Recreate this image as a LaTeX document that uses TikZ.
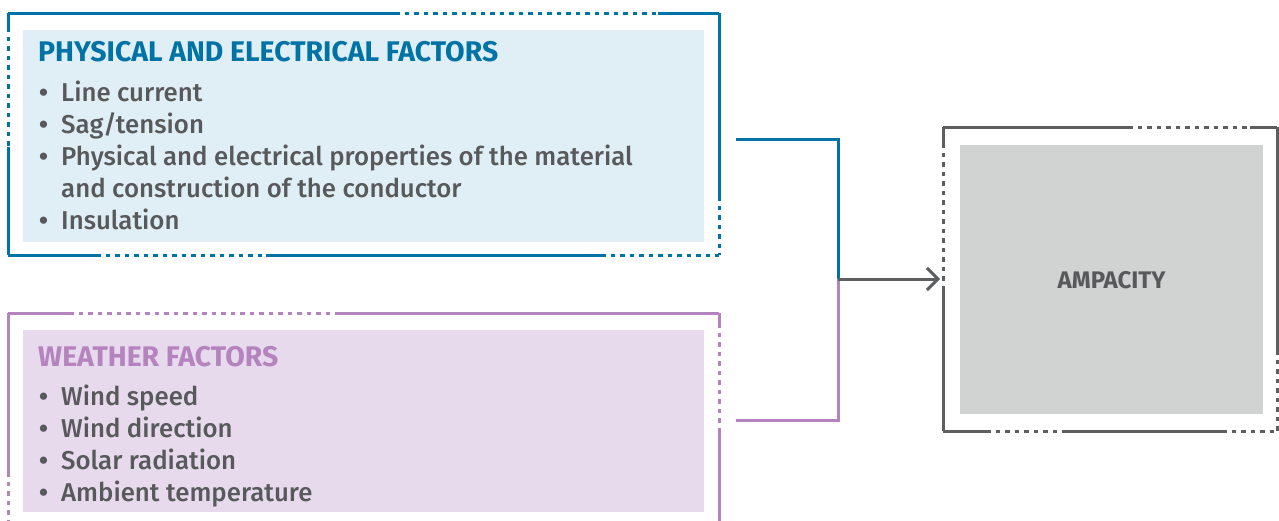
\documentclass[tikz,border=0pt]{standalone}
\usepackage{fontspec}
\setmainfont{Fira Sans}[UprightFont={* Medium},BoldFont={* Bold}]
\usetikzlibrary{arrows.meta}
\definecolor{cblue}{HTML}{0073A6}
\definecolor{cbluefill}{HTML}{E0EEF6}
\definecolor{cpurple}{HTML}{B584BF}
\definecolor{cpurplefill}{HTML}{E6DAEC}
\definecolor{ctext}{HTML}{58595B}
\definecolor{cgrayfill}{HTML}{D1D3D2}
\definecolor{cframe}{HTML}{5D5E60}
\newcommand{\bul}{\makebox[23pt][l]{\hspace{1pt}\textbf{•}}}
\begin{document}
\begin{tikzpicture}[x=1pt,y=-1pt,
  seg/.style={line width=3pt},
  dotseg/.style={line width=3pt,dash pattern=on 4.5pt off 5pt},
  panel/.style={draw=none,anchor=north west,inner sep=0pt},
  title/.style={anchor=base west,inner sep=0pt,font=\bfseries\fontsize{28.4}{30}\selectfont},
  item/.style={anchor=base west,inner sep=0pt,text=ctext,font=\fontsize{25.8}{28}\selectfont},
  link/.style={line width=3pt}
]
\useasboundingbox (0,0) rectangle (1279,520);
% fills
\node[panel,fill=cbluefill,minimum width=681pt,minimum height=212pt] (bluebox) at (23,30) {};
\node[panel,fill=cpurplefill,minimum width=681pt,minimum height=182pt] (purplebox) at (23,330) {};
\node[panel,fill=cgrayfill,minimum width=303pt,minimum height=269pt] (ampbox) at (960,145) {};
% blue frame
\begin{scope}[draw=cblue]
\draw[seg] (8,13)--(395,13); \draw[dotseg] (395,13)--(658,13); \draw[seg] (658,13)--(719,13);
\draw[seg] (8,13)--(8,27); \draw[dotseg] (8,27)--(8,147); \draw[seg] (8,147)--(8,255);
\draw[seg] (719,13)--(719,196); \draw[dotseg] (719,196)--(719,255);
\draw[seg] (8,255)--(96,255); \draw[dotseg] (96,255)--(266,255); \draw[seg] (266,255)--(601,255); \draw[dotseg] (601,255)--(719,255);
\end{scope}
% purple frame
\begin{scope}[draw=cpurple]
\draw[seg] (8,313)--(69,313); \draw[dotseg] (69,313)--(335,313); \draw[seg] (335,313)--(719,313);
\draw[seg] (8,313)--(8,472); \draw[dotseg] (8,472)--(8,522);
\draw[seg] (719,313)--(719,323); \draw[dotseg] (719,323)--(719,428); \draw[seg] (719,428)--(719,522);
\end{scope}
% ampacity frame
\begin{scope}[draw=cframe]
\draw[seg] (943,127)--(1128,127); \draw[dotseg] (1128,127)--(1250,127); \draw[seg] (1250,127)--(1277,127);
\draw[seg] (943,127)--(943,143); \draw[dotseg] (943,143)--(943,290); \draw[seg] (943,290)--(943,431);
\draw[seg] (1277,127)--(1277,350); \draw[dotseg] (1277,350)--(1277,431);
\draw[seg] (943,431)--(986,431); \draw[dotseg] (986,431)--(1065,431); \draw[seg] (1065,431)--(1222,431); \draw[dotseg] (1222,431)--(1277,431);
\end{scope}
\coordinate (ampin) at (940,279);
% texts
\node[title,text=cblue] (t1) at (38,61) {PHYSICAL AND ELECTRICAL FACTORS};
\node[item] (b1) at (38,101) {\bul Line current};
\node[item] (b2) at (38,133) {\bul Sag/tension};
\node[item] (b3) at (38,165) {\bul Physical and electrical properties of the material};
\node[item] (b4) at (61,197) {and construction of the conductor};
\node[item] (b5) at (38,229) {\bul Insulation};
\node[title,text=cpurple] (t2) at (38,366) {WEATHER FACTORS};
\node[item] (w1) at (38,405) {\bul Wind speed};
\node[item] (w2) at (38,437) {\bul Wind direction};
\node[item] (w3) at (38,469) {\bul Solar radiation};
\node[item] (w4) at (38,501) {\bul Ambient temperature};
\node[inner sep=0pt,text=ctext,font=\bfseries\fontsize{24}{26}\selectfont] (amp) at (ampbox.center) {AMPACITY};
% connectors
\coordinate (bo) at (736,139);
\coordinate (po) at (736,420);
\coordinate (j) at (838,279);
\draw[link,cblue] (bo) -| (j);
\draw[link,cpurple] (po) -| (j);
\draw[link,cframe,-{Straight Barb[length=11pt,width=22pt,line width=3pt]}] (j) -- (ampin);
\end{tikzpicture}
\end{document}
